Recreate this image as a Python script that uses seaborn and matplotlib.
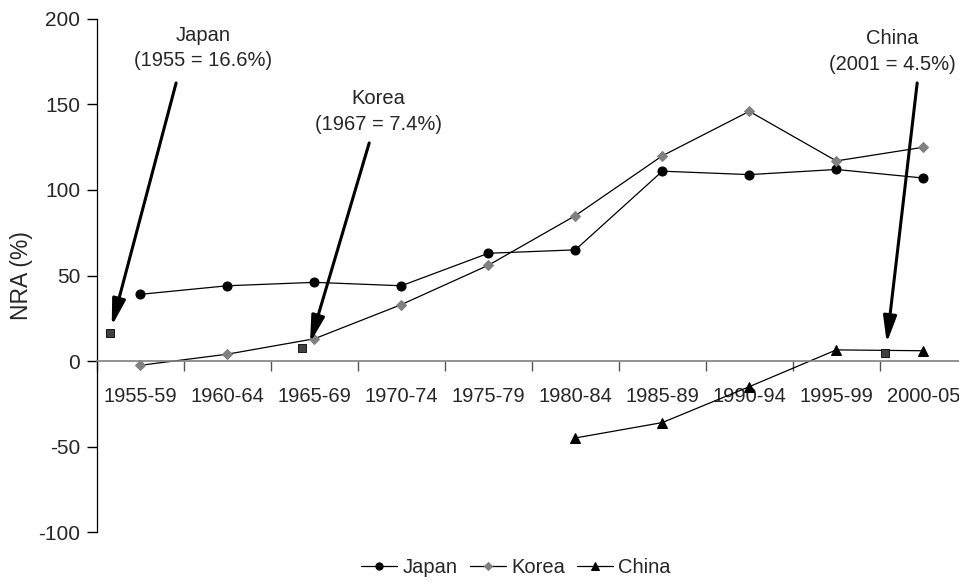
import matplotlib
matplotlib.use("Agg")
import matplotlib.pyplot as plt
import numpy as np
import seaborn as sns

# data
periods = ["1955-59", "1960-64", "1965-69", "1970-74", "1975-79",
           "1980-84", "1985-89", "1990-94", "1995-99", "2000-05"]
japan = [39, 44, 46, 44, 63, 65, 111, 109, 112, 107]
korea = [-2.5, 4, 13, 33, 56, 85, 120, 146, 117, 125]
china = [np.nan, np.nan, np.nan, np.nan, np.nan, -45, -36, -15, 6.5, 6]

# single-year points (position on the category axis, value)
single_names = ["Japan", "Korea", "China"]
single_years = [1955, 1967, 2001]
single_pos = [-0.35, 1.86, 8.56]
single_vals = [16.6, 7.4, 4.5]

sns.set_theme(style="white")
plt.rcParams["font.family"] = ["Liberation Sans", "DejaVu Sans"]
plt.rcParams["axes.unicode_minus"] = False

fig = plt.figure(figsize=(9.59, 5.84), dpi=100)
ax = fig.add_axes([0.1011, 0.089, 0.907, 0.8785])

x = np.arange(len(periods))
sns.lineplot(x=x, y=japan, color="black", lw=0.9, marker="o", markersize=6.5,
             markeredgecolor="black", label="Japan", ax=ax)
sns.lineplot(x=x, y=korea, color="black", lw=0.9, marker="D", markersize=5,
             markerfacecolor="#808080", markeredgecolor="#808080", label="Korea", ax=ax)
sns.lineplot(x=x, y=china, color="black", lw=0.9, marker="^", markersize=7,
             markeredgecolor="black", label="China", ax=ax)
sns.scatterplot(x=single_pos, y=single_vals, marker="s", color="#404040",
                edgecolor="black", linewidth=0.6, s=30, ax=ax, zorder=5)

ax.set_xlim(-0.5, len(periods) - 0.5)
ax.set_ylim(-100, 200)
ax.set_yticks(range(-100, 201, 50))
ax.set_xticks(x)
ax.set_xticklabels(periods)
ax.set_xticks(np.arange(len(periods) + 1) - 0.5, minor=True)
ax.tick_params(axis="x", which="major", length=0, pad=19, labelsize=14.5, bottom=True)
ax.tick_params(axis="x", which="minor", length=7, width=1, color="#555555",
               direction="out", bottom=True)
ax.tick_params(axis="y", length=7, width=1, color="black", direction="out",
               labelsize=15, pad=5, left=True)

for side in ["top", "right"]:
    ax.spines[side].set_visible(False)
ax.spines["bottom"].set_position(("data", 0))
ax.spines["bottom"].set_color("#808080")
ax.spines["bottom"].set_linewidth(1.2)
ax.spines["left"].set_color("black")
ax.spines["left"].set_linewidth(0.9)
ax.grid(False)
ax.set_ylabel("NRA (%)", fontsize=16.5, labelpad=4)

# callouts for the single-year observations
text_xy = [(0.72, 183), (2.74, 146), (8.64, 181)]
arrow_from = [(0.41, 162.6), (2.63, 127.5), (8.93, 162.6)]
arrow_to = [(-0.33, 20.5), (1.95, 10.7), (8.58, 10.5)]
for name, yr, val, txy, a0, a1 in zip(single_names, single_years, single_vals,
                                      text_xy, arrow_from, arrow_to):
    ax.text(txy[0], txy[1], f"{name}\n({yr} = {val}%)", ha="center", va="center",
            fontsize=14.5, linespacing=1.45)
    ax.annotate("", xy=a1, xytext=a0,
                arrowprops=dict(arrowstyle="-|>,head_length=1.0,head_width=0.25",
                                mutation_scale=16, color="black", lw=2.2,
                                shrinkA=0, shrinkB=0))

ax.legend_.remove()
handles, labels = ax.get_legend_handles_labels()
fig.legend(handles[:3], labels[:3], loc="center", bbox_to_anchor=(0.538, 0.028), ncol=3,
           frameon=False, fontsize=14.5, handlelength=1.8, handletextpad=0.25,
           columnspacing=0.6, markerscale=0.8)

fig.savefig("out.png", dpi=100)
